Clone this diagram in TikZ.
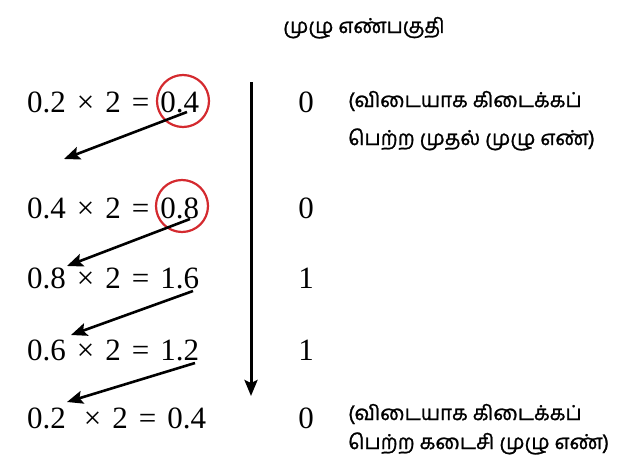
\documentclass[tikz,border=0pt]{standalone}
\usepackage{fontspec}
\setmainfont{Liberation Serif}
\newfontfamily\tamil[Script=Tamil,FakeBold=1.2]{Hind Madurai}
\usetikzlibrary{arrows.meta}
\definecolor{circred}{HTML}{D42A2F}
\newcommand{\eqsp}[1][11pt]{\hspace{#1}}
\tikzset{
  eq/.style={anchor=base west, inner sep=0pt, font=\fontsize{31}{31}\selectfont},
  dig/.style={anchor=base, inner sep=0pt, font=\fontsize{31}{31}\selectfont},
  ta/.style={anchor=base west, inner sep=0pt, font=\tamil\fontsize{20.5}{20.5}\selectfont},
  ring/.style={draw=circred, line width=2.2pt},
  arr/.style={line width=2.6pt, -{Stealth[length=16pt,width=13pt,inset=3pt]}},
}
\begin{document}
\begin{tikzpicture}[x=1pt,y=-1pt]
\useasboundingbox (0,0) rectangle (634,460);
\node[ta, anchor=base] (title) at (364,33) {முழு எண்பகுதி};
\node[eq] (e1) at (27,112) {0.2\eqsp×\eqsp2\eqsp=\eqsp0.4};
\node[eq] (e2) at (27,218) {0.4\eqsp×\eqsp2\eqsp=\eqsp0.8};
\node[eq] (e3) at (27,288) {0.8\eqsp×\eqsp2\eqsp=\eqsp1.6};
\node[eq] (e4) at (27,360) {0.6\eqsp×\eqsp2\eqsp=\eqsp1.2};
\node[eq] (e5) at (27,428) {0.2\eqsp[18pt]×\eqsp2\eqsp=\eqsp0.4};
\node[dig] (d1) at (306,112) {0};
\node[dig] (d2) at (306,218) {0};
\node[dig] (d3) at (306,288) {1};
\node[dig] (d4) at (306,360) {1};
\node[dig] (d5) at (306,428) {0};
\node[ta] (n1) at (348,107) {(விடையாக கிடைக்கப்};
\node[ta] (n2) at (348,145) {பெற்ற முதல் முழு எண்)};
\node[ta] (n3) at (348,420) {(விடையாக கிடைக்கப்};
\node[ta] (n4) at (348,449) {பெற்ற கடைசி முழு எண்)};
\draw[ring] (183,101) circle (26);
\draw[ring] (182,206) circle (26);
\coordinate (vtop) at (251,82);
\coordinate (vbot) at (251,396);
\draw[arr, line width=3pt] (vtop) -- (vbot);
\coordinate (a1s) at (187,112); \coordinate (a1e) at (64,159);
\coordinate (a2s) at (190,219); \coordinate (a2e) at (67,266);
\coordinate (a3s) at (193,291); \coordinate (a3e) at (71,335);
\coordinate (a4s) at (195,363); \coordinate (a4e) at (67,402);
\draw[arr] (a1s) -- (a1e);
\draw[arr] (a2s) -- (a2e);
\draw[arr] (a3s) -- (a3e);
\draw[arr] (a4s) -- (a4e);
\end{tikzpicture}
\end{document}
